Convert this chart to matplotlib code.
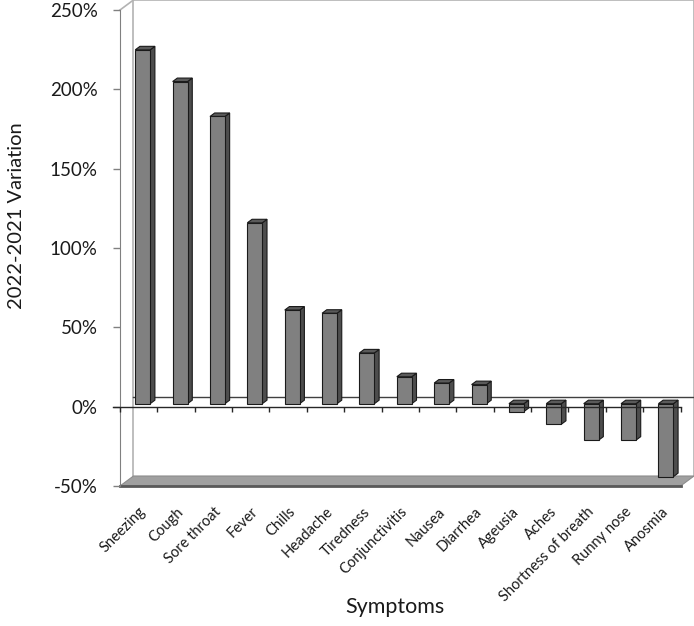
import matplotlib
matplotlib.use('Agg')
import matplotlib.pyplot as plt
from matplotlib.patches import Polygon

# Datos
sintomas = ['Sneezing', 'Cough', 'Sore throat', 'Fever', 'Chills', 'Headache',
            'Tiredness', 'Conjunctivitis', 'Nausea', 'Diarrhea', 'Ageusia',
            'Aches', 'Shortness of breath', 'Runny nose', 'Anosmia']
variacion = [223, 203, 181, 114, 59, 57, 32, 17, 13, 12, -5, -13, -23, -23, -46]
ticks_y = [-50, 0, 50, 100, 150, 200, 250]

plt.rcParams['font.family'] = ['Lato', 'DejaVu Sans']

n = len(sintomas)
ymin, ymax = ticks_y[0], ticks_y[-1]

# Profundidad del efecto 3D (en unidades de datos)
DX = 0.36
DY = 6.3
f = 0.3      # posicion de la cara frontal de la barra dentro de la profundidad
d = 0.35     # profundidad de la barra
w = 0.4      # ancho de la barra

fig = plt.figure(figsize=(6.94, 6.26), dpi=100)
ax = fig.add_axes([120 / 694, 140 / 626, 574 / 694, 486 / 626])
ax.set_xlim(0, n + DX)
ax.set_ylim(ymin, ymax + DY)

gris_pared = '#b3b3b3'

# Pared del fondo y pared lateral
ax.plot([DX, DX, n + DX, n + DX], [ymin + DY, ymax + DY, ymax + DY, ymin + DY],
        color=gris_pared, lw=1.2, clip_on=False, zorder=0)
ax.plot([0, DX], [ymax, ymax + DY], color=gris_pared, lw=1.2, clip_on=False, zorder=0)

# Suelo
suelo = Polygon([(0, ymin), (n, ymin), (n + DX, ymin + DY), (DX, ymin + DY)],
                closed=True, facecolor='#a0a0a0', edgecolor='#8c8c8c', lw=0.8,
                zorder=1, clip_on=False)
ax.add_patch(suelo)
ax.plot([0, n], [ymin, ymin], color='#595959', lw=2, zorder=1, clip_on=False)

# Linea del cero en el fondo
ax.plot([DX, n + DX], [DY, DY], color='#404040', lw=1, zorder=1, clip_on=False)

# Barras
xs = [i + 0.5 - w / 2 + f * DX for i in range(n)]
ax.bar(xs, variacion, width=w, bottom=f * DY, align='edge',
       color='#808080', edgecolor='#1a1a1a', lw=0.8, zorder=3)
for x0, v in zip(xs, variacion):
    x1 = x0 + w
    arriba = f * DY + max(v, 0)
    abajo = f * DY + min(v, 0)
    lado = Polygon([(x1, abajo), (x1 + d * DX, abajo + d * DY),
                    (x1 + d * DX, arriba + d * DY), (x1, arriba)],
                   closed=True, facecolor='#4d4d4d', edgecolor='#1a1a1a', lw=0.8, zorder=2)
    tapa = Polygon([(x0, arriba), (x1, arriba), (x1 + d * DX, arriba + d * DY),
                    (x0 + d * DX, arriba + d * DY)],
                   closed=True, facecolor='#5a5a5a', edgecolor='#1a1a1a', lw=0.8, zorder=2)
    ax.add_patch(lado)
    ax.add_patch(tapa)

# Eje de categorias en el cero (frontal)
ax.plot([-0.18, n], [0, 0], color='#262626', lw=1, zorder=4, clip_on=False)
ax.vlines(range(n + 1), -3.5, 0, color='#262626', lw=1, zorder=4, clip_on=False)

# Eje Y
for lado_s in ['top', 'right', 'bottom']:
    ax.spines[lado_s].set_visible(False)
ax.spines['left'].set_bounds(ymin, ymax)
ax.spines['left'].set_color('#808080')
ax.set_yticks(ticks_y)
ax.set_yticklabels([str(t) + '%' for t in ticks_y], fontsize=13.5, color='#1a1a1a')
ax.tick_params(axis='y', length=5, width=1, color='#808080', pad=11)
ax.set_xticks([])

# Etiquetas de categorias
for i, s in enumerate(sintomas):
    ax.annotate(s, xy=(i + 0.5, ymin), xytext=(3.5, -17), textcoords='offset points',
                rotation=45, ha='right', va='center', rotation_mode='anchor',
                fontsize=10.5, color='#1a1a1a')

fig.text(17 / 694, 1 - 216 / 626, '2022-2021 Variation', rotation=90,
         ha='center', va='center', fontsize=14.5, color='#1a1a1a')
fig.text(395 / 694, 1 - 607 / 626, 'Symptoms', ha='center', va='center',
         fontsize=15.5, color='#1a1a1a')

fig.savefig('out.png', dpi=100)
